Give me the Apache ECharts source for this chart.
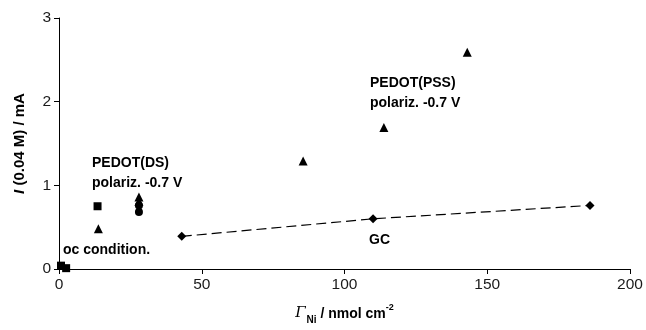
<!DOCTYPE html>
<html><head><meta charset="utf-8">
<script src="https://cdn.jsdelivr.net/npm/echarts@6/dist/echarts.min.js"></script>
<style>html,body{margin:0;padding:0;background:#fff}#c{width:646px;height:330px}</style>
</head><body><div id="c"></div>
<script>
// Data
const squares = [[0.7, 0.04], [2.5, 0.01], [13.5, 0.75]];
const triangles = [[13.8, 0.48], [28, 0.86], [28, 0.81], [85.5, 1.29], [113.8, 1.69], [143, 2.59]];
const circles = [[28, 0.76], [28, 0.68]];
const gcLine = [[43, 0.39], [110, 0.6], [186, 0.76]];
const xTicks = [0, 50, 100, 150, 200];
const yTicks = [0, 1, 2, 3];

const FONT = '"Liberation Sans", Arial, sans-serif';
const chart = echarts.init(document.getElementById('c'), null, {renderer: 'canvas'});
const axisCommon = {
  axisLine: {show: true, lineStyle: {color: '#000', width: 1}},
  axisTick: {show: true, inside: false, length: 5, lineStyle: {color: '#000'}},
  splitLine: {show: false},
  axisLabel: {color: '#1a1a1a', fontSize: 15.5, fontFamily: FONT}
};
const mk = {color: '#000', opacity: 1};
chart.setOption({
  animation: false,
  grid: {left: 59, right: 16, top: 18, bottom: 60, containLabel: false},
  xAxis: Object.assign({
    type: 'value', min: xTicks[0], max: xTicks[xTicks.length - 1], interval: 50,
    name: '{g|Γ}{sub|Ni}{n| / nmol cm}{sup|-2}', nameLocation: 'middle', nameGap: 34,
    nameTextStyle: {
      rich: {
        g: {fontFamily: '"DejaVu Serif", serif', fontStyle: 'italic', fontSize: 15, color: '#000', verticalAlign: 'bottom', lineHeight: 18},
        sub: {fontFamily: FONT, fontWeight: 'bold', fontSize: 10, color: '#000', verticalAlign: 'bottom', lineHeight: 18, padding: [0, 0, -4, 1]},
        n: {fontFamily: FONT, fontWeight: 'bold', fontSize: 14, color: '#000', verticalAlign: 'bottom', lineHeight: 18},
        sup: {fontFamily: FONT, fontWeight: 'bold', fontSize: 9, color: '#000', verticalAlign: 'top', lineHeight: 18, padding: [0, 0, 6, 0]}
      }
    }
  }, axisCommon),
  yAxis: Object.assign({
    type: 'value', min: yTicks[0], max: yTicks[yTicks.length - 1], interval: 1,
    name: '{i|I}{n| (0.04 M) / mA}', nameLocation: 'middle', nameGap: 32, nameRotate: 90,
    nameTextStyle: {
      rich: {
        i: {fontFamily: FONT, fontWeight: 'bold', fontStyle: 'italic', fontSize: 15, color: '#000'},
        n: {fontFamily: FONT, fontWeight: 'bold', fontSize: 15, color: '#000'}
      }
    }
  }, axisCommon),
  series: [
    {type: 'line', data: gcLine, symbol: 'diamond', symbolSize: 9, itemStyle: mk,
     lineStyle: {color: '#000', width: 1.2, type: [10, 5]}, z: 3},
    {type: 'scatter', data: squares, symbol: 'rect', symbolSize: 8, itemStyle: mk},
    {type: 'scatter', data: triangles, symbol: 'triangle', symbolSize: 9, itemStyle: mk},
    {type: 'scatter', data: circles, symbol: 'circle', symbolSize: 8, itemStyle: mk}
  ],
  graphic: [
    {type: 'text', left: 92, top: 153, style: {text: 'PEDOT(DS)\npolariz. -0.7 V', font: 'bold 14px ' + FONT, fill: '#000', lineHeight: 20}},
    {type: 'text', left: 63, top: 243, style: {text: 'oc condition.', font: 'bold 14px ' + FONT, fill: '#000'}},
    {type: 'text', left: 370, top: 73, style: {text: 'PEDOT(PSS)\npolariz. -0.7 V', font: 'bold 14px ' + FONT, fill: '#000', lineHeight: 20}},
    {type: 'text', left: 369, top: 233, style: {text: 'GC', font: 'bold 14px ' + FONT, fill: '#000'}}
  ]
});
</script></body></html>
